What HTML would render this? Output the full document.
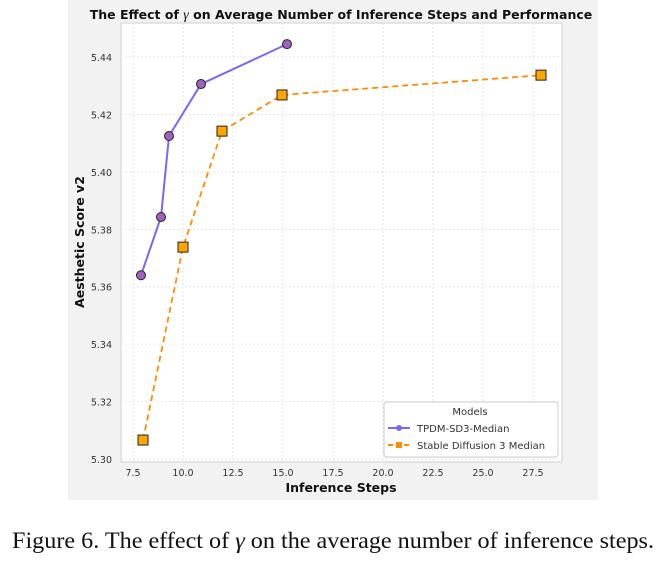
<!DOCTYPE html>
<html><head><meta charset="utf-8"><style>
body{margin:0;background:#fff;width:671px;height:559px;overflow:hidden;font-family:"DejaVu Sans",sans-serif}
</style></head><body>
<svg width="671" height="559" xmlns="http://www.w3.org/2000/svg">
<rect x="68" y="0" width="530" height="500" fill="#f2f2f2"/>
<rect x="121" y="23" width="441" height="439" fill="#fff" stroke="#ddd" stroke-width="1.5"/>
<g id="grid"></g>
<g id="ticks"></g>
<g id="series"></g>
<text x="341" y="19" text-anchor="middle" font-size="12.5" font-weight="bold" fill="#111">The Effect of <tspan font-family="Liberation Serif" font-style="italic" font-weight="normal" font-size="14">γ</tspan> on Average Number of Inference Steps and Performance</text>
<text x="341" y="492" text-anchor="middle" font-size="12.5" font-weight="bold" fill="#111">Inference Steps</text>
<text transform="translate(84,242) rotate(-90)" text-anchor="middle" font-size="12.5" font-weight="bold" fill="#111">Aesthetic Score v2</text>
<g>
<rect x="384" y="402" width="174" height="55" rx="3" fill="#fff" stroke="#ccc"/>
<text x="470" y="415" text-anchor="middle" font-size="10" fill="#333">Models</text>
<line x1="388" y1="428" x2="410" y2="428" stroke="#7b68ee" stroke-width="2"/><circle cx="399" cy="428" r="3" fill="#7b68ee"/>
<text x="417" y="432" font-size="10" fill="#333">TPDM-SD3-Median</text>
<line x1="388" y1="445" x2="410" y2="445" stroke="#ff8c00" stroke-width="2" stroke-dasharray="5,3"/><rect x="396" y="442" width="6" height="6" fill="#ff8c00"/>
<text x="417" y="449" font-size="10" fill="#333">Stable Diffusion 3 Median</text>
</g>
<text x="333" y="548" text-anchor="middle" textLength="642" lengthAdjust="spacingAndGlyphs" font-family="Liberation Serif,serif" font-size="23.5" fill="#111">Figure 6. The effect of <tspan font-style="italic">γ</tspan> on the average number of inference steps.</text>
</svg>
<script>
const xTicks=[7.5,10,12.5,15,17.5,20,22.5,25,27.5];
const xTickLabels=["7.5","10.0","12.5","15.0","17.5","20.0","22.5","25.0","27.5"];
const yTicks=[5.30,5.32,5.34,5.36,5.38,5.40,5.42,5.44];
const yTickLabels=["5.30","5.32","5.34","5.36","5.38","5.40","5.42","5.44"];
const tpdmSteps=[7.9,8.9,9.3,10.9,15.2];
const tpdmScores=[5.364,5.3843,5.4125,5.4306,5.4445];
const sd3Steps=[8,10,11.95,14.95,27.9];
const sd3Scores=[5.3066,5.3738,5.4142,5.4268,5.4337];
const NS="http://www.w3.org/2000/svg";
function X(v){return 133+(v-7.5)*20;}
function Y(v){return 459-(v-5.30)*2871;}
function mk(t,a,p){const e=document.createElementNS(NS,t);for(const k in a)e.setAttribute(k,a[k]);p.appendChild(e);return e;}
const grid=document.getElementById('grid'),ticks=document.getElementById('ticks'),ser=document.getElementById('series');
xTicks.forEach((v,i)=>{
 mk('line',{x1:X(v),x2:X(v),y1:23,y2:462,stroke:'#e6e6e6','stroke-dasharray':'2,2'},grid);
 const t=mk('text',{x:X(v),y:476,'text-anchor':'middle','font-size':'9.5',fill:'#333'},ticks);t.textContent=xTickLabels[i];
 
 
});
yTicks.forEach((v,i)=>{
 mk('line',{x1:121,x2:562,y1:Y(v),y2:Y(v),stroke:'#e6e6e6','stroke-dasharray':'2,2'},grid);
 const t=mk('text',{x:112,y:Y(v)+4,'text-anchor':'end','font-size':'9.5',fill:'#333'},ticks);t.textContent=yTickLabels[i];
 
 
});
const sp=sd3Steps.map((s,i)=>X(s)+','+Y(sd3Scores[i])).join(' ');
const l2=mk('polyline',{points:sp,fill:'none',stroke:'#ff8c00','stroke-width':1.8,'stroke-dasharray':'6,4'},ser);


sd3Steps.forEach((s,i)=>{
 const r=mk('rect',{x:X(s)-5,y:Y(sd3Scores[i])-5,width:10,height:10,fill:'#ffa500',stroke:'#222','stroke-width':1},ser);
 
 
});
const tp=tpdmSteps.map((s,i)=>X(s)+','+Y(tpdmScores[i])).join(' ');
const l1=mk('polyline',{points:tp,fill:'none',stroke:'#7b68ee','stroke-width':2},ser);


tpdmSteps.forEach((s,i)=>{
 const c=mk('circle',{cx:X(s),cy:Y(tpdmScores[i]),r:4.5,fill:'#9b59b6',stroke:'#222','stroke-width':1},ser);
 c.setAttribute('fill','#a060c0');
 
 
});
</script>
</body></html>
